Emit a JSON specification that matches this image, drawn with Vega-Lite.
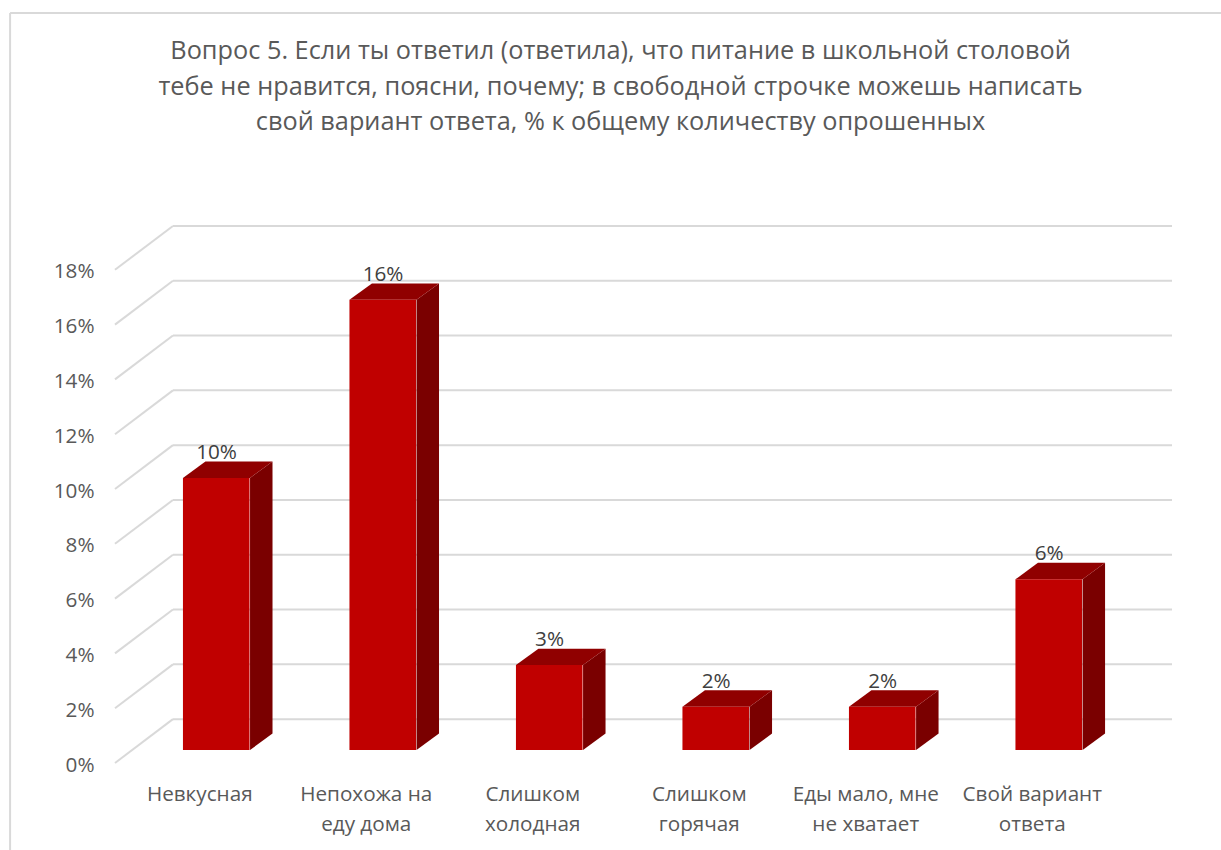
{
"$schema":"https://vega.github.io/schema/vega-lite/v6.json",
"width":1057,"height":548,
"autosize":{"type":"none"},
"padding":{"left":115,"top":215,"right":49,"bottom":87},
"background":"white",
"config":{"view":{"stroke":null},"font":"Open Sans"},
"title":{"text":["Вопрос 5. Если ты ответил (ответила), что питание в школьной столовой","тебе не нравится, поясни, почему; в свободной строчке можешь написать","свой вариант ответа, % к общему количеству опрошенных"],"font":"Open Sans","fontSize":25.3,"fontWeight":"normal","color":"#595959","lineHeight":35.5,"anchor":"middle","frame":"group","dx":-23,"offset":0,"dy":123.5},
"datasets":{
"bars":[
{"category":"Невкусная","order":0,"share":0.0993},
{"category":"Непохожа на\nеду дома","order":1,"share":0.1643},
{"category":"Слишком\nхолодная","order":2,"share":0.031},
{"category":"Слишком\nгорячая","order":3,"share":0.0158},
{"category":"Еды мало, мне\nне хватает","order":4,"share":0.0158},
{"category":"Свой вариант\nответа","order":5,"share":0.0623}
],
"ticks":[{"tick":0},{"tick":0.02},{"tick":0.04},{"tick":0.06},{"tick":0.08},{"tick":0.1},{"tick":0.12},{"tick":0.14},{"tick":0.16},{"tick":0.18}]
},
"resolve":{"scale":{"x":"independent"}},
"layer":[
{"data":{"values":[{"a":1}]},"mark":{"type":"rule","color":"#D9D9D9","strokeWidth":2},
"encoding":{"x":{"datum":-0.63,"type":"quantitative","scale":{"domain":[0,6.348]},"axis":null},"x2":{"datum":-0.63},"y":{"datum":0.2737,"type":"quantitative","scale":{"domain":[0,0.2]},"axis":{"title":null,"values":[0,0.02,0.04,0.06,0.08,0.1,0.12,0.14,0.16,0.18],"format":".0%","domain":false,"ticks":false,"grid":false,"labelPadding":21,"labelOffset":2,"labelFontSize":20.7,"labelColor":"#595959","labelFont":"Open Sans"}},"y2":{"datum":-0.04}}},
{"data":{"values":[{"a":1}]},"mark":{"type":"rule","color":"#D9D9D9","strokeWidth":2},
"encoding":{"x":{"datum":-0.63,"type":"quantitative","scale":{"domain":[0,6.348]},"axis":null},"x2":{"datum":6.7},"y":{"datum":0.2737,"type":"quantitative","scale":{"domain":[0,0.2]}}}},
{"data":{"name":"ticks"},"transform":[{"calculate":"datum.tick+0.016","as":"wall"}],"mark":{"type":"rule","color":"#D9D9D9","strokeWidth":2},
"encoding":{"x":{"datum":0,"type":"quantitative","scale":{"domain":[0,6.348]},"axis":null},"x2":{"datum":0.348},
"y":{"field":"tick","type":"quantitative","scale":{"domain":[0,0.2]}},"y2":{"field":"wall"}}},
{"data":{"name":"ticks"},"transform":[{"calculate":"datum.tick+0.016","as":"wall"}],"mark":{"type":"rule","color":"#D9D9D9","strokeWidth":2},
"encoding":{"x":{"datum":0.348,"type":"quantitative","scale":{"domain":[0,6.348]},"axis":null},"x2":{"datum":6.348},
"y":{"field":"wall","type":"quantitative","scale":{"domain":[0,0.2]}}}},
{"data":{"name":"bars"},"transform":[{"calculate":"[0,1]","as":"d"},{"flatten":["d"]},{"calculate":"datum.order+0.811+datum.d*0.135","as":"sx"},{"calculate":"0.00474+datum.d*0.006","as":"sy0"},{"calculate":"datum.share+datum.sy0","as":"sy1"}],
"mark":{"type":"area","color":"#7A0000","opacity":1,"line":false},
"encoding":{"x":{"field":"sx","type":"quantitative","scale":{"domain":[0,6.348]},"axis":null},"y":{"field":"sy1","type":"quantitative","scale":{"domain":[0,0.2]}},"y2":{"field":"sy0"},"detail":{"field":"category"}}},
{"data":{"name":"bars"},"transform":[{"calculate":"[0,1]","as":"d"},{"flatten":["d"]},{"calculate":"datum.order+0.408+datum.d*0.135","as":"tl"},{"calculate":"datum.order+0.811+datum.d*0.135","as":"tr"},{"calculate":"datum.share+0.00474+datum.d*0.006","as":"ty"}],
"mark":{"type":"area","color":"#900000","opacity":1,"orient":"horizontal"},
"encoding":{"x":{"field":"tl","type":"quantitative","scale":{"domain":[0,6.348]},"axis":null},"x2":{"field":"tr"},"y":{"field":"ty","type":"quantitative","scale":{"domain":[0,0.2]}},"detail":{"field":"category"}}},
{"data":{"name":"bars"},"transform":[{"calculate":"datum.share+0.00474","as":"ftop"},{"calculate":"0.00474","as":"fbase"}],
"mark":{"type":"bar","color":"#C00000","xOffset":18},
"encoding":{"x":{"field":"category","type":"nominal","sort":null,"scale":{"type":"band","range":[0,999],"paddingInner":0.6,"paddingOuter":0.3},"axis":{"title":null,"orient":"bottom","domain":false,"ticks":false,"grid":false,"labelAngle":0,"labelExpr":"split(datum.label,'\\n')","labelPadding":21,"labelOffset":1.5,"labelFontSize":20.7,"labelLineHeight":30,"labelColor":"#595959","labelFont":"Open Sans"}},"y":{"field":"ftop","type":"quantitative","scale":{"domain":[0,0.2]}},"y2":{"field":"fbase"}}},
{"data":{"name":"bars"},"transform":[{"calculate":"datum.order+0.61","as":"lx"},{"calculate":"datum.share+0.00474","as":"ly"}],
"mark":{"type":"text","font":"Open Sans","fontSize":20.7,"color":"#404040","dy":-25,"baseline":"middle"},
"encoding":{"x":{"field":"lx","type":"quantitative","scale":{"domain":[0,6.348]},"axis":null},"y":{"field":"ly","type":"quantitative","scale":{"domain":[0,0.2]}},"text":{"field":"share","type":"quantitative","format":".0%"}}}
]
}
